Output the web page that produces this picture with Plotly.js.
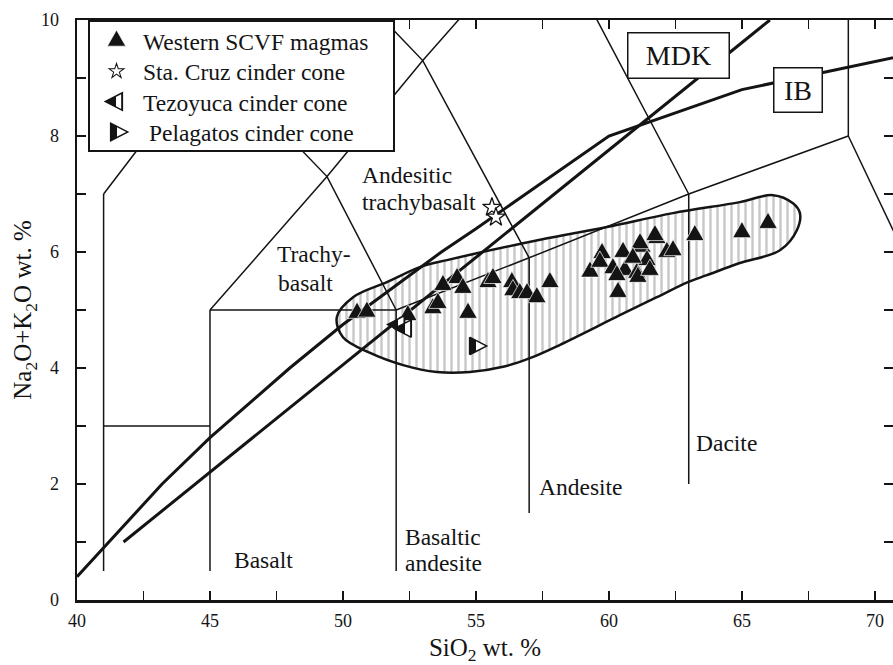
<!DOCTYPE html>
<html><head><meta charset="utf-8">
<script src="https://cdn.plot.ly/plotly-3.0.1.min.js"></script>
<style>html,body{margin:0;padding:0;background:#fff;} #chart{width:893px;height:665px;}</style>
</head><body><div id="chart"></div>
<script>
// ---- data ----
const westX = [50.53, 50.90, 52.44, 53.38, 53.57, 53.76, 54.29, 54.51, 54.70, 55.45, 55.64, 56.35, 56.39, 56.65, 56.92, 57.29, 57.78,
               59.29, 59.74, 59.66, 60.15, 60.34, 60.53, 60.60, 61.05, 61.09, 61.24, 61.43, 61.54, 61.80, 62.18, 62.41, 63.23, 65.00, 65.98,
               60.30, 61.17, 61.73, 60.90];
const westY = [4.95, 4.97, 4.91, 5.03, 5.12, 5.43, 5.55, 5.38, 4.95, 5.48, 5.55, 5.48, 5.34, 5.29, 5.29, 5.22, 5.48,
               5.66, 5.98, 5.83, 5.72, 5.31, 6.00, 5.69, 5.64, 5.57, 6.09, 5.86, 5.69, 6.24, 6.00, 6.03, 6.29, 6.34, 6.50,
               5.60, 6.15, 6.29, 5.90];
const cruzX = [55.60, 55.75];
const cruzY = [6.77, 6.60];
const tezX = [52.10, 52.35];
const tezY = [4.75, 4.68];
const pelX = [54.98];
const pelY = [4.38];

// envelope of the western SCVF field
const fieldX = [49.77, 50.38, 51.65, 52.89, 53.91, 57.41, 59.92, 62.41, 64.92, 66.17, 66.92, 67.18, 67.07, 66.43, 64.92, 63.68, 62.97, 61.80, 60.41, 58.16, 57.03, 56.02, 54.77, 53.53, 52.26, 51.02, 50.00, 49.77];
const fieldY = [4.88, 5.22, 5.48, 5.74, 5.86, 6.21, 6.43, 6.67, 6.86, 6.98, 6.84, 6.67, 6.38, 6.03, 5.81, 5.60, 5.48, 5.22, 4.91, 4.40, 4.17, 4.02, 3.93, 3.93, 4.05, 4.26, 4.53, 4.88];

// TAS field boundaries (segments separated by null)
const tasX = [41, 41, null, 41, 45, null, 45, 45, null, 45, 52, null, 52, 52, null, 57, 57, null, 63, 63, null,
              52, 57, 63, 69, null, 69, 69, null, 69, 77.3, null, 41, 45, 48.4, null, 45, 49.4, 53, 57.6, null,
              45, 49.4, 52, null, 48.4, 53, 57, null, 52.5, 57.6, 63];
const tasY = [0.5, 7, null, 3, 3, null, 0.5, 5, null, 5, 5, null, 0.5, 5, null, 1.5, 5.9, null, 2, 7, null,
              5, 5.9, 7, 8, null, 8, 12, null, 8, 0, null, 7, 9.4, 11.5, null, 5, 7.3, 9.3, 11.7, null,
              9.4, 7.3, 5, null, 11.5, 9.3, 5.9, null, 14, 11.7, 7];

// alkaline / subalkaline divisions
const mdkX = [41.75, 66.05];
const mdkY = [1.0, 10.0];
const ibX = [40, 43.2, 45, 48, 50, 53.7, 55, 60, 65, 77.4];
const ibY = [0.4, 2.0, 2.8, 4.0, 4.75, 6.0, 6.4, 8.0, 8.8, 10.0];

const xTickVals = [40, 45, 50, 55, 60, 65, 70];
const xTickText = ['40', '45', '50', '55', '60', '65', '70'];
const yTickVals = [0, 2, 4, 6, 8, 10];
const yTickText = ['0', '2', '4', '6', '8', '10'];

const seriesNames = ['Western SCVF magmas', 'Sta. Cruz cinder cone', 'Tezoyuca cinder cone', '\u00a0Pelagatos cinder cone'];

// ---- traces ----
const INK = '#141414';
const traces = [
  {x: fieldX, y: fieldY, type: 'scatter', mode: 'lines', fill: 'toself', fillcolor: 'white',
   fillpattern: {shape: '|', size: 7, solidity: 0.33, fgcolor: '#c6c6c6', bgcolor: 'white'},
   line: {color: INK, width: 2.5, shape: 'spline', smoothing: 1}, showlegend: false, hoverinfo: 'skip'},
  {x: tasX, y: tasY, type: 'scatter', mode: 'lines', line: {color: INK, width: 1.5}, showlegend: false, connectgaps: false, hoverinfo: 'skip'},
  {x: mdkX, y: mdkY, type: 'scatter', mode: 'lines', line: {color: INK, width: 3}, showlegend: false, hoverinfo: 'skip'},
  {x: ibX, y: ibY, type: 'scatter', mode: 'lines', line: {color: INK, width: 3}, showlegend: false, hoverinfo: 'skip'},
  {x: westX, y: westY, type: 'scatter', mode: 'markers', name: seriesNames[0], uid: 'west',
   marker: {symbol: 'triangle-up', size: 16, color: INK, line: {color: 'white', width: 0.6}}},
  {x: cruzX, y: cruzY, type: 'scatter', mode: 'markers', name: seriesNames[1], uid: 'cruz',
   marker: {symbol: 'star', size: 14, color: 'white', line: {color: INK, width: 1.3}}},
  {x: tezX, y: tezY, type: 'scatter', mode: 'markers', name: seriesNames[2], uid: 'tez',
   marker: {symbol: 'triangle-left', size: 15, color: 'white', gradient: {type: 'horizontal', color: INK}, line: {color: INK, width: 1.3}}},
  {x: pelX, y: pelY, type: 'scatter', mode: 'markers', name: seriesNames[3], uid: 'pel',
   marker: {symbol: 'triangle-right', size: 15, color: 'white', gradient: {type: 'horizontal', color: INK}, line: {color: INK, width: 1.3}}}
];

const FONT = 'Liberation Serif, Times New Roman, serif';
function lab(text, x, y) {
  return {text: text, x: x, y: y, xref: 'x', yref: 'y', xanchor: 'left', yanchor: 'middle', showarrow: false,
          font: {family: FONT, size: 23.5, color: INK}};
}
function boxed(text, x, y, w, h) {
  return {text: text, x: x, y: y, xref: 'x', yref: 'y', xanchor: 'center', yanchor: 'middle', showarrow: false,
          width: w, height: h, bgcolor: 'white', bordercolor: INK, borderwidth: 1.5, borderpad: 0,
          font: {family: FONT, size: 28, color: INK}};
}
const minorTicks = function (d) {
  return {dtick: d, ticks: 'inside', ticklen: 9, tickwidth: 1.5, tickcolor: INK, showgrid: false};
};

const layout = {
  width: 893, height: 665,
  margin: {l: 77, r: 0, t: 20, b: 65, pad: 0},
  paper_bgcolor: 'white', plot_bgcolor: 'white',
  font: {family: FONT, color: INK, size: 18},
  xaxis: {range: [40, 70.68], tickmode: 'array', tickvals: xTickVals, ticktext: xTickText,
          ticks: 'inside', ticklen: 9, tickwidth: 1.5, tickcolor: INK, minor: Object.assign({tick0: 40}, minorTicks(2.5)),
          showline: true, linewidth: 2.5, linecolor: INK, mirror: 'ticks', showgrid: false, zeroline: false,
          tickfont: {size: 18, color: INK}, automargin: false, ticklabelstandoff: 3,
          title: {text: 'SiO<sub>2</sub> wt. %', font: {size: 25, color: INK}, standoff: 17}},
  yaxis: {range: [0, 10], tickmode: 'array', tickvals: yTickVals, ticktext: yTickText,
          ticks: 'inside', ticklen: 9, tickwidth: 1.5, tickcolor: INK, minor: Object.assign({tick0: 0}, minorTicks(1)),
          showline: true, linewidth: 2.5, linecolor: INK, mirror: 'ticks', showgrid: false, zeroline: false,
          tickfont: {size: 18, color: INK}, automargin: false, ticklabelstandoff: 12,
          title: {text: 'Na<sub>2</sub>O+K<sub>2</sub>O wt. %', font: {size: 25, color: INK}, standoff: 2}},
  showlegend: true,
  legend: {x: 0.0135, y: 1, xanchor: 'left', yanchor: 'top', bgcolor: 'white', bordercolor: INK, borderwidth: 2,
           font: {family: FONT, size: 23.5, color: INK}, itemwidth: 43, tracegroupgap: 0},
  annotations: [
    lab('Andesitic', 50.64, 7.33),
    lab('trachybasalt', 50.64, 6.86),
    lab('Trachy-', 47.44, 5.97),
    lab('basalt', 47.5, 5.47),
    lab('Basalt', 45.83, 0.69),
    lab('Basaltic', 52.26, 1.09),
    lab('andesite', 52.26, 0.64),
    lab('Andesite', 57.29, 1.95),
    lab('Dacite', 63.2, 2.71),
    boxed('MDK', 62.63, 9.38, 100, 44),
    boxed('IB', 67.11, 8.79, 47, 43)
  ]
};

Plotly.newPlot('chart', traces, layout, {staticPlot: true}).then(function (gd) {
  // give triangles the taller proportions of the reference symbols
  function reshape(sel, sx, sy) {
    gd.querySelectorAll(sel).forEach(function (p) {
      var t = p.getAttribute('transform') || '';
      p.setAttribute('transform', t + ' scale(' + sx + ',' + sy + ')');
    });
  }
  reshape('.tracewest .points path', 1, 1.35);
  reshape('.tracetez .points path', 1.5, 1);
  reshape('.tracepel .points path', 1.5, 1);
  var legendTraces = gd.querySelectorAll('.legend .traces');
  var leg = [[1, 1.35], [0.8, 0.8], [1.5, 1], [1.5, 1]];
  var y0 = null;
  legendTraces.forEach(function (g, i) {
    // tighter row spacing, as in the reference legend box
    var t = g.getAttribute('transform') || '';
    var m = /translate\(\s*([-\d.]+)[ ,]+([-\d.]+)\s*\)/.exec(t);
    if (m) {
      if (y0 === null) y0 = parseFloat(m[2]) - 3;
      g.setAttribute('transform', 'translate(' + m[1] + ',' + (y0 + i * 30.4) + ')');
    }
    if (!leg[i]) return;
    g.querySelectorAll('.legendpoints path').forEach(function (p) {
      var tt = p.getAttribute('transform') || '';
      p.setAttribute('transform', tt + ' scale(' + leg[i][0] + ',' + leg[i][1] + ')');
    });
  });
  var bg = gd.querySelector('.legend rect.bg');
  if (bg) { bg.setAttribute('width', 305); bg.setAttribute('height', 130); }
  // half-filled symbols: sharp split of the horizontal gradient
  document.querySelectorAll('linearGradient').forEach(function (g) {
    var f = null;
    if (g.id.indexOf('tez') >= 0) f = 0.62;
    else if (g.id.indexOf('pel') >= 0) f = 0.36;
    if (f === null) return;
    g.removeAttribute('gradientTransform');
    g.setAttribute('x1', '0'); g.setAttribute('x2', '1'); g.setAttribute('y1', '0'); g.setAttribute('y2', '0');
    var stops = g.querySelectorAll('stop');
    if (stops.length >= 2) {
      stops[0].setAttribute('offset', f); stops[0].setAttribute('stop-color', INK); stops[0].setAttribute('stop-opacity', '1');
      stops[stops.length - 1].setAttribute('offset', f); stops[stops.length - 1].setAttribute('stop-color', '#ffffff'); stops[stops.length - 1].setAttribute('stop-opacity', '1');
      for (var k = 1; k < stops.length - 1; k++) stops[k].remove();
    }
  });
});
</script>
</body></html>
